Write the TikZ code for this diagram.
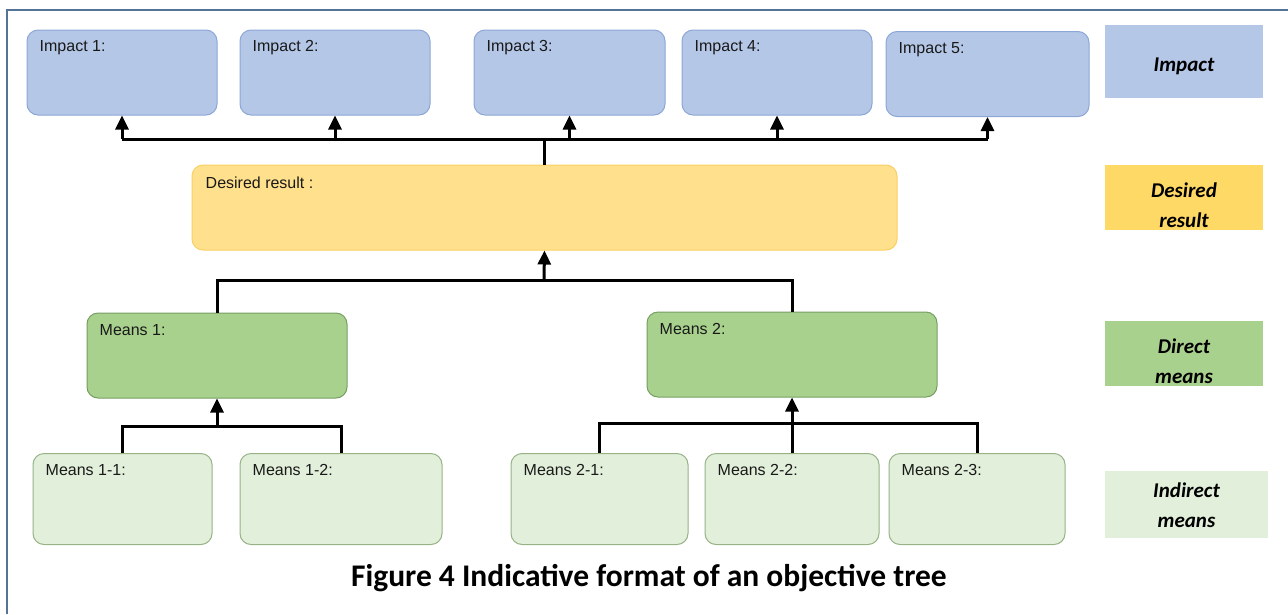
\documentclass[tikz,border=0pt]{standalone}
\usepackage{fontspec}
\setmainfont{Liberation Sans}
\newfontfamily\capfont{Carlito}
\usetikzlibrary{arrows.meta,positioning}

\definecolor{impfill}{RGB}{180,199,231}
\definecolor{impline}{RGB}{140,166,214}
\definecolor{resfill}{RGB}{255,224,140}
\definecolor{resline}{RGB}{250,208,100}
\definecolor{legres}{RGB}{255,217,102}
\definecolor{dirfill}{RGB}{169,209,142}
\definecolor{dirline}{RGB}{118,158,98}
\definecolor{indfill}{RGB}{226,239,218}
\definecolor{indline}{RGB}{150,178,134}
\definecolor{framecol}{RGB}{85,115,150}

\tikzset{
  box/.style={rectangle, rounded corners=11pt, line width=1pt, inner sep=0pt},
  impbox/.style={box, draw=impline, fill=impfill, minimum height=85pt},
  resbox/.style={box, draw=resline, fill=resfill, minimum height=85pt},
  dirbox/.style={box, draw=dirline, fill=dirfill, minimum height=85pt},
  indbox/.style={box, draw=indline, fill=indfill, minimum height=91pt},
  lbl/.style={inner sep=0pt, text=black!90, font=\fontsize{16}{19}\selectfont},
  legbox/.style={rectangle, inner sep=0pt, minimum width=158pt},
  legtxt/.style={inner sep=0pt, align=center,
    font=\capfont\bfseries\itshape\fontsize{21}{30}\selectfont},
  link/.style={line width=3pt},
  arr/.style={-{Triangle[width=13pt,length=14pt]}},
}

\begin{document}
\begin{tikzpicture}[x=1pt, y=-1pt]
\useasboundingbox (0,0) rectangle (1288,614);

% Marco
\draw[framecol, line width=2pt] (7,614) -- (7,10) -- (1288,10);

% Impactos
\foreach \n/\x/\y/\w in {1/122/72.5/190, 2/335/72.5/190, 3/569.5/72.5/191,
                         4/777/72.5/190, 5/987.5/74/203}
{
  \node[impbox, minimum width=\w pt] (imp\n) at (\x,\y) {};
  \node[lbl, below right=11pt and 13pt of imp\n.north west] (impl\n) {Impact \n:};
}

% Resultado
\node[resbox, minimum width=705pt] (res) at (544.5,207.5) {};
\node[lbl, below right=12pt and 14pt of res.north west] (resl) {Desired result :};

% Medios directos
\node[dirbox, minimum width=260pt] (dir1) at (217,355.5) {};
\node[lbl, below right=12pt and 13pt of dir1.north west] (dirl1) {Means 1:};
\node[dirbox, minimum width=290pt] (dir2) at (792,354.5) {};
\node[lbl, below right=12pt and 13pt of dir2.north west] (dirl2) {Means 2:};

% Medios indirectos
\foreach \a/\b/\x/\w in {1/1/122.5/179, 1/2/341/202, 2/1/599.5/177, 2/2/792/174, 2/3/977/176}
{
  \node[indbox, minimum width=\w pt] (ind\a\b) at (\x,499) {};
  \node[lbl, below right=11pt and 13pt of ind\a\b.north west] (indl\a\b) {Means \a-\b:};
}

% Conexiones
\coordinate (topbus) at (544,139);
\draw[link] (res.north) -- (res.north |- topbus);
\draw[link] (imp1.south |- topbus) -- (imp5.south |- topbus);
\foreach \n in {1,...,5}
  \draw[link,arr] (imp\n.south |- topbus) -- (imp\n.south);

\coordinate (midbus) at (544,280);
\draw[link] (dir1.north) -- (dir1.north |- midbus) -- (dir2.north |- midbus) -- (dir2.north);
\draw[link,arr] (midbus) -- (res.south);

\coordinate (lbus) at (217,426);
\draw[link] (ind11.north) -- (ind11.north |- lbus) -- (ind12.north |- lbus) -- (ind12.north);
\draw[link,arr] (lbus) -- (dir1.south);

\coordinate (rbus) at (792,423);
\draw[link] (ind21.north) -- (ind21.north |- rbus) -- (ind23.north |- rbus) -- (ind23.north);
\draw[link] (ind22.north) -- (rbus);
\draw[link,arr] (rbus) -- (dir2.south);

% Leyenda
\node[legbox, fill=impfill, minimum height=73pt] (legimp) at (1184,61.5) {};
\node[legtxt] (legimpt) at (1184,66) {Impact};
\node[legbox, fill=legres, minimum height=65pt] (legres) at (1184,197.5) {};
\node[legtxt] (legrest) at (1184,205) {Desired\\result};
\node[legbox, fill=dirfill, minimum height=65pt] (legdir) at (1184,353.5) {};
\node[legtxt] (legdirt) at (1184,361) {Direct\\means};
\node[legbox, fill=indfill, minimum height=67pt, minimum width=163pt] (legind) at (1186.5,504.5) {};
\node[legtxt] (legindt) at (1186.5,505) {Indirect\\means};

% Titulo
\node[font=\capfont\bfseries\fontsize{31.5}{36}\selectfont] (titulo) at (649,578)
  {Figure 4 Indicative format of an objective tree};
\end{tikzpicture}
\end{document}
